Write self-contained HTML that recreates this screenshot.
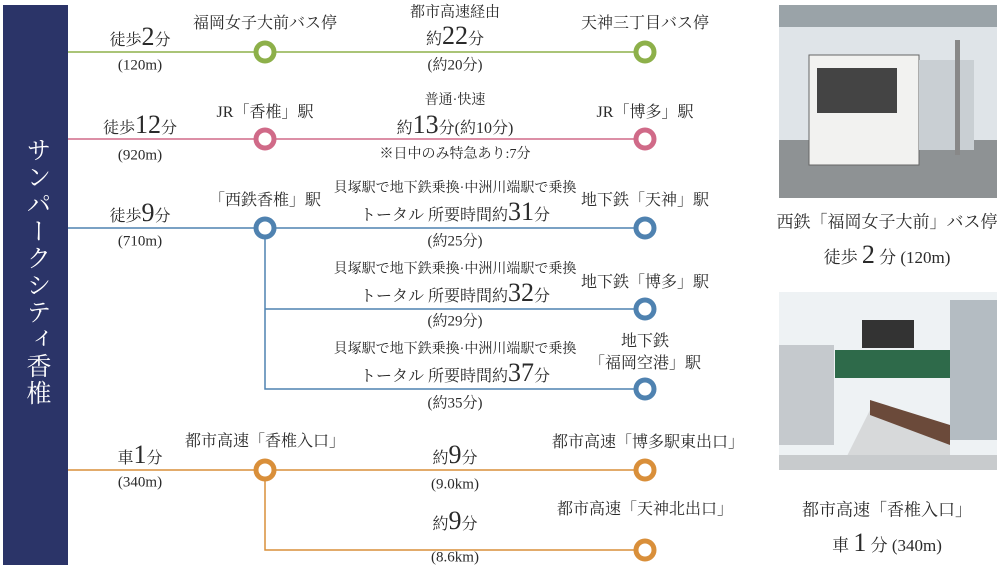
<!DOCTYPE html>
<html><head><meta charset="utf-8"><style>
body{margin:0;width:1000px;height:570px;background:#fff;position:relative;overflow:hidden;font-family:"Liberation Serif","Noto Serif CJK SC",serif;color:#2a2a2a}
.t{position:absolute;white-space:nowrap;transform:translate(-50%,-50%);line-height:1}
.s{font-size:15px}.x{font-size:14px}.m{font-size:16px}.b{font-size:26px}
.bar{position:absolute;left:3px;top:5px;width:65px;height:560px;background:#2b3468}
.title{position:absolute;left:36px;top:272px;transform:translate(-50%,-50%);writing-mode:vertical-rl;color:#fff;font-size:25px;letter-spacing:2px}
</style></head><body>
<div class="bar"></div><div class="title">サンパークシティ香椎</div>
<svg width="1000" height="570" style="position:absolute;left:0;top:0">
<g fill="#fff" stroke-width="5">
<line x1="68" y1="52" x2="645" y2="52" stroke="#8db04a" stroke-width="1.5"/>
<circle cx="265" cy="52" r="9" stroke="#8db04a"/><circle cx="645" cy="52" r="9" stroke="#8db04a"/>
<line x1="68" y1="139" x2="645" y2="139" stroke="#d06a88" stroke-width="1.5"/>
<circle cx="265" cy="139" r="9" stroke="#d06a88"/><circle cx="645" cy="139" r="9" stroke="#d06a88"/>
<path d="M68 228H645M265 228V389H645M265 309H645" stroke="#4f82b0" stroke-width="1.5" fill="none"/>
<circle cx="265" cy="228" r="9" stroke="#4f82b0"/><circle cx="645" cy="228" r="9" stroke="#4f82b0"/>
<circle cx="645" cy="309" r="9" stroke="#4f82b0"/><circle cx="645" cy="389" r="9" stroke="#4f82b0"/>
<path d="M68 470H645M265 470V550H645" stroke="#d98f3a" stroke-width="1.5" fill="none"/>
<circle cx="265" cy="470" r="9" stroke="#d98f3a"/><circle cx="645" cy="470" r="9" stroke="#d98f3a"/><circle cx="645" cy="550" r="9" stroke="#d98f3a"/>
</g>
<rect x="779" y="5" width="218" height="193" fill="#dfe4e8"/>
<rect x="779" y="5" width="218" height="22" fill="#9aa3a8"/>
<rect x="779" y="140" width="218" height="58" fill="#8e9294"/>
<rect x="809" y="55" width="110" height="110" fill="#f2f2f0" stroke="#666"/>
<rect x="817" y="68" width="80" height="45" fill="#444"/>
<rect x="919" y="60" width="55" height="90" fill="#c9cfd3"/>
<rect x="955" y="40" width="5" height="115" fill="#888"/>
<rect x="779" y="292" width="218" height="178" fill="#eef2f4"/>
<rect x="779" y="345" width="55" height="100" fill="#c5c9cd"/>
<rect x="950" y="300" width="47" height="140" fill="#b4bcc2"/>
<rect x="862" y="320" width="52" height="28" fill="#333"/>
<rect x="835" y="350" width="115" height="28" fill="#2e6a4a"/>
<path d="M840 470L870 410H900L950 440V470Z" fill="#d7d9da"/>
<path d="M870 400L950 425V445L870 415Z" fill="#6b4a3a"/>
<rect x="779" y="455" width="218" height="15" fill="#c8cbcd"/>
</svg>
<div class="t m" style="left:140px;top:37px">徒歩<span class="b">2</span>分</div>
<div class="t s" style="left:140px;top:66px">(120m)</div>
<div class="t m" style="left:265px;top:24px">福岡女子大前バス停</div>
<div class="t s" style="left:455px;top:13px">都市高速経由</div>
<div class="t m" style="left:455px;top:36px">約<span class="b">22</span>分</div>
<div class="t s" style="left:455px;top:66px">(約20分)</div>
<div class="t m" style="left:645px;top:24px">天神三丁目バス停</div>

<div class="t m" style="left:140px;top:125px">徒歩<span class="b">12</span>分</div>
<div class="t s" style="left:140px;top:156px">(920m)</div>
<div class="t m" style="left:265px;top:113px">JR「香椎」駅</div>
<div class="t x" style="left:455px;top:101px">普通·快速</div>
<div class="t m" style="left:455px;top:125px">約<span class="b">13</span>分(約10分)</div>
<div class="t x" style="left:455px;top:155px">※日中のみ特急あり:7分</div>
<div class="t m" style="left:645px;top:113px">JR「博多」駅</div>

<div class="t m" style="left:140px;top:213px">徒歩<span class="b">9</span>分</div>
<div class="t s" style="left:140px;top:242px">(710m)</div>
<div class="t m" style="left:265px;top:201px">「西鉄香椎」駅</div>
<div class="t x" style="left:455px;top:189px">貝塚駅で地下鉄乗換·中洲川端駅で乗換</div>
<div class="t m" style="left:455px;top:212px">トータル 所要時間約<span class="b">31</span>分</div>
<div class="t s" style="left:455px;top:242px">(約25分)</div>
<div class="t m" style="left:645px;top:201px">地下鉄「天神」駅</div>

<div class="t x" style="left:455px;top:270px">貝塚駅で地下鉄乗換·中洲川端駅で乗換</div>
<div class="t m" style="left:455px;top:293px">トータル 所要時間約<span class="b">32</span>分</div>
<div class="t s" style="left:455px;top:322px">(約29分)</div>
<div class="t m" style="left:645px;top:283px">地下鉄「博多」駅</div>

<div class="t x" style="left:455px;top:350px">貝塚駅で地下鉄乗換·中洲川端駅で乗換</div>
<div class="t m" style="left:455px;top:373px">トータル 所要時間約<span class="b">37</span>分</div>
<div class="t s" style="left:455px;top:404px">(約35分)</div>
<div class="t m" style="left:645px;top:342px">地下鉄</div>
<div class="t m" style="left:645px;top:364px">「福岡空港」駅</div>

<div class="t m" style="left:140px;top:455px">車<span class="b">1</span>分</div>
<div class="t s" style="left:140px;top:483px">(340m)</div>
<div class="t m" style="left:265px;top:442px">都市高速「香椎入口」</div>
<div class="t m" style="left:455px;top:455px">約<span class="b">9</span>分</div>
<div class="t s" style="left:455px;top:485px">(9.0km)</div>
<div class="t m" style="left:648px;top:443px">都市高速「博多駅東出口」</div>
<div class="t m" style="left:455px;top:521px">約<span class="b">9</span>分</div>
<div class="t m" style="left:645px;top:510px">都市高速「天神北出口」</div>
<div class="t s" style="left:455px;top:558px">(8.6km)</div>

<div class="t m" style="left:887px;top:222px;font-size:17px">西鉄「福岡女子大前」バス停</div>
<div class="t m" style="left:887px;top:255px;font-size:17px">徒歩 <span class="b">2</span> 分 (120m)</div>
<div class="t m" style="left:887px;top:510px;font-size:17px">都市高速「香椎入口」</div>
<div class="t m" style="left:887px;top:543px;font-size:17px">車 <span class="b">1</span> 分 (340m)</div>
</body></html>
